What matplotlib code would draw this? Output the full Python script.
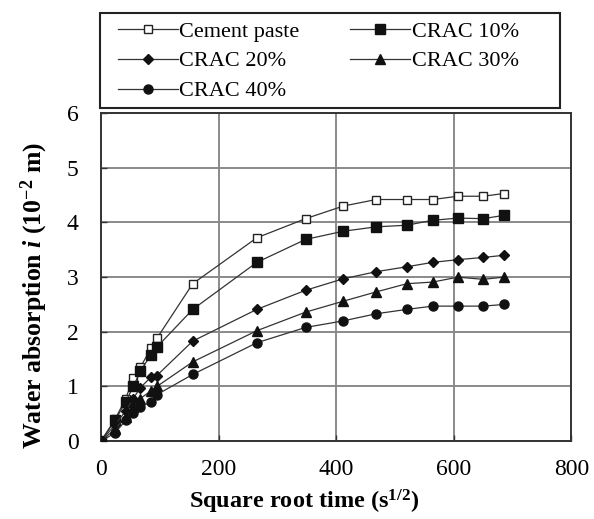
import matplotlib
matplotlib.use("Agg")
import matplotlib.pyplot as plt
from matplotlib.patches import Rectangle

plt.rcParams['font.family'] = ['Liberation Serif', 'DejaVu Serif']
plt.rcParams['mathtext.fontset'] = 'custom'
plt.rcParams['mathtext.rm'] = 'Liberation Serif:bold'
plt.rcParams['mathtext.it'] = 'Liberation Serif:italic:bold'
plt.rcParams['mathtext.bf'] = 'Liberation Serif:bold'

x_sqrt_time = [0, 24, 42, 55, 67, 85, 95, 156, 265, 348, 412, 468, 520, 564, 607, 650, 685]
cement_paste = [0, 0.40, 0.78, 1.15, 1.35, 1.70, 1.88, 2.88, 3.72, 4.07, 4.30, 4.42, 4.42, 4.42, 4.48, 4.48, 4.53]
crac_10 = [0, 0.38, 0.72, 1.00, 1.28, 1.58, 1.72, 2.41, 3.27, 3.69, 3.84, 3.92, 3.95, 4.04, 4.08, 4.07, 4.13]
crac_20 = [0, 0.30, 0.55, 0.78, 0.98, 1.17, 1.20, 1.83, 2.41, 2.76, 2.97, 3.10, 3.19, 3.27, 3.32, 3.36, 3.40]
crac_30 = [0, 0.22, 0.45, 0.62, 0.78, 0.92, 1.00, 1.45, 2.02, 2.36, 2.56, 2.73, 2.88, 2.91, 3.00, 2.96, 3.00]
crac_40 = [0, 0.15, 0.38, 0.52, 0.62, 0.72, 0.85, 1.22, 1.80, 2.08, 2.20, 2.33, 2.41, 2.47, 2.47, 2.47, 2.50]

series_labels = ["Cement paste", "CRAC 10%", "CRAC 20%", "CRAC 30%", "CRAC 40%"]
x_ticks = [0, 200, 400, 600, 800]
y_ticks = [0, 1, 2, 3, 4, 5, 6]

fig = plt.figure(figsize=(5.94, 5.19), dpi=100)
ax = fig.add_axes([0.170, 0.150, 0.792, 0.632])

styles = [
    dict(marker='s', mfc='white', mec='#222222', ms=6, mew=1.0),
    dict(marker='s', mfc='#111111', mec='#111111', ms=6.5),
    dict(marker='D', mfc='#111111', mec='#111111', ms=5),
    dict(marker='^', mfc='#111111', mec='#111111', ms=6.5),
    dict(marker='o', mfc='#111111', mec='#111111', ms=6.5),
]
series = [cement_paste, crac_10, crac_20, crac_30, crac_40]
handles = []
for ys, lab, st in zip(series, series_labels, styles):
    h, = ax.plot(x_sqrt_time, ys, color='#333333', lw=0.9, label=lab, zorder=3, **st)
    handles.append(h)

ax.set_xlim(0, 800)
ax.set_ylim(0, 6)
ax.set_xticks(x_ticks)
ax.set_yticks(y_ticks)
ax.grid(True, color='#8a8a8a', lw=1.4)
ax.set_axisbelow(True)
for sp in ax.spines.values():
    sp.set_linewidth(1.4)
    sp.set_color('#333333')
ax.tick_params(direction='in', length=4, width=1.0, labelsize=17, color='#333333')
ax.tick_params(axis='x', pad=13)
ax.tick_params(axis='y', pad=16)

ax.set_xlabel(r"Square root time (s$^{1/2}$)", fontsize=17.5, fontweight='bold')
ax.set_ylabel(r"Water absorption $i$ (10$^{-2}$ m)", fontsize=18.5, fontweight='bold')
ax.xaxis.set_label_coords(0.431, -0.143)
ax.yaxis.set_label_coords(-0.108, 0.444)

# legend filled row by row like the reference
order = [0, 2, 4, 1, 3]
leg = fig.legend([handles[i] for i in order], [series_labels[i] for i in order],
                 loc='upper left', bbox_to_anchor=(118 / 594, 1 - 21 / 519),
                 ncol=2, fontsize=16, frameon=False,
                 handlelength=2.7, handletextpad=0.05,
                 labelspacing=0.42, borderaxespad=0, borderpad=0,
                 columnspacing=2.3)
fig.patches.append(Rectangle((100 / 594, 1 - 108 / 519), 460 / 594, 95 / 519,
                             transform=fig.transFigure, fill=False,
                             edgecolor='#222222', lw=1.5))

fig.savefig("out.png", dpi=100)
